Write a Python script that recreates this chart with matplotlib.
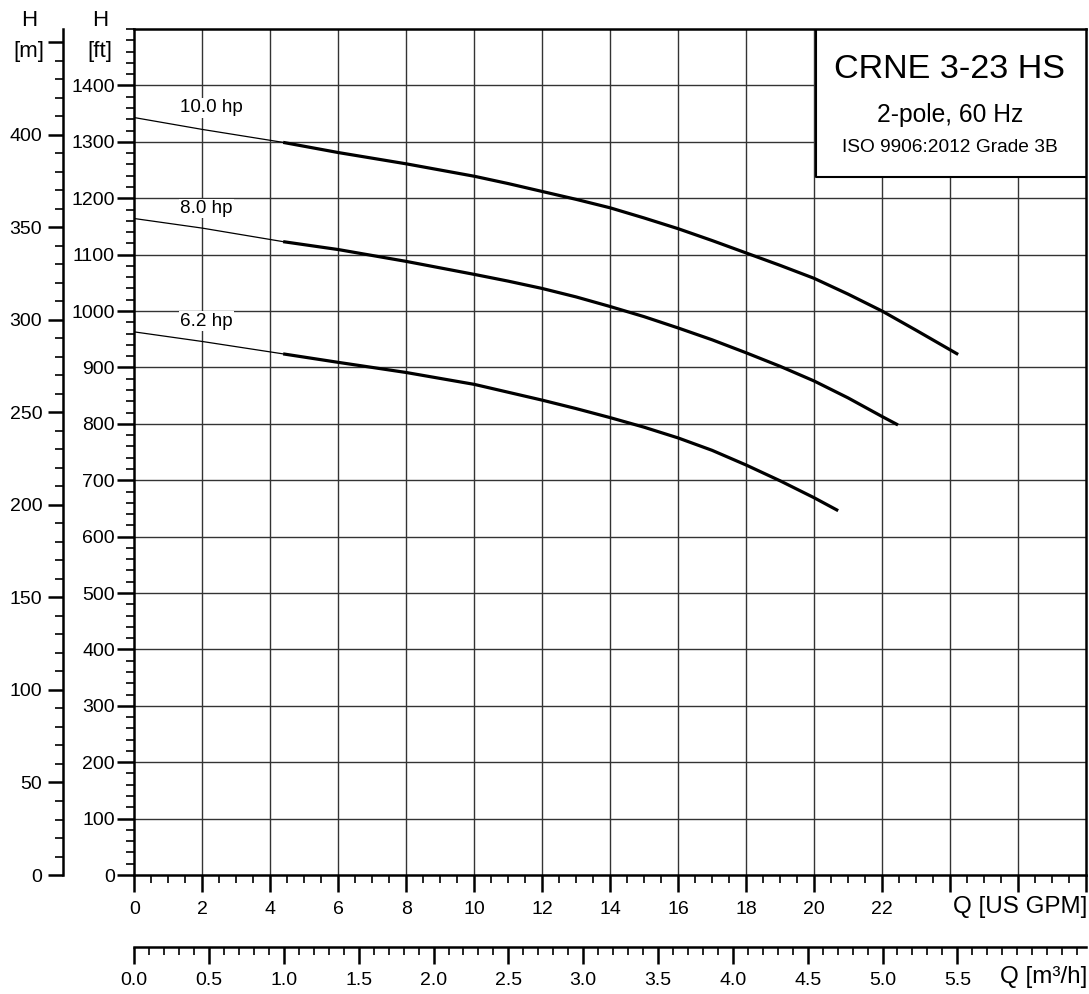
import numpy as np
import matplotlib.pyplot as plt
from matplotlib.ticker import MultipleLocator, FixedLocator

plt.rcParams['font.family'] = ['Liberation Sans', 'DejaVu Sans']

# odczytane punkty krzywych: Q [US GPM], H [ft]
q_thin = [0.0, 2.0, 4.38]
h10_thin = [1343, 1322, 1299]
h8_thin = [1164, 1147, 1123]
h62_thin = [963, 946, 924]

q10 = [4.38, 6, 7, 8, 9, 10, 11, 12, 13, 14, 15, 16, 17, 18, 19, 20, 21, 22, 23, 24.24]
h10 = [1299, 1281, 1271, 1261, 1250, 1239, 1226, 1212, 1198, 1183, 1165, 1146, 1125, 1103, 1081,
       1058, 1030, 1000, 966, 923]
q8 = [4.38, 6, 8, 10, 11, 12, 13, 14, 15, 16, 17, 18, 19, 20, 21, 22, 22.47]
h8 = [1123, 1109, 1088, 1065, 1053, 1040, 1025, 1008, 990, 970, 949, 926, 902, 876, 846, 813, 798]
q62 = [4.38, 6, 8, 10, 11, 12, 13, 14, 15, 16, 17, 18, 19, 20, 20.71]
h62 = [924, 909, 891, 870, 856, 842, 827, 811, 794, 775, 753, 727, 699, 669, 646]

labels = ['10.0 hp', '8.0 hp', '6.2 hp']
label_h = [1360, 1182, 982]

ft_ticks = list(range(0, 1500, 100))
m_ticks = list(range(0, 450, 50))
gpm_ticks = list(range(0, 24, 2))
m3h_ticks = [0.0, 0.5, 1.0, 1.5, 2.0, 2.5, 3.0, 3.5, 4.0, 4.5, 5.0, 5.5]

GPM_PER_M3H = 4.40287
FT_PER_M = 1 / 0.3048

fig = plt.figure(figsize=(10.89, 9.94), dpi=100)
ax = fig.add_axes([0.1233, 0.1197, 0.8739, 0.8511])
ax.set_xlim(0, 28)
ax.set_ylim(0, 1500)

# siatka
for x in range(2, 28, 2):
    ax.axvline(x, color='#333333', lw=1.0, zorder=1)
for y in range(100, 1500, 100):
    ax.axhline(y, color='#333333', lw=1.0, zorder=1)

# krzywe
for hthin, q, h in [(h10_thin, q10, h10), (h8_thin, q8, h8), (h62_thin, q62, h62)]:
    ax.plot(q_thin, hthin, color='black', lw=0.9, zorder=3)
    ax.plot(q, h, color='black', lw=2.3, zorder=3, solid_capstyle='butt', solid_joinstyle='round')

for lab, hy in zip(labels, label_h):
    ax.text(1.35, hy, lab, fontsize=13.6, ha='left', va='center', zorder=4,
            bbox=dict(facecolor='white', edgecolor='none', pad=1))

# ramka z tytulem
ax.fill_between([20.05, 28], 1237, 1500, facecolor='white', edgecolor='none', zorder=5)
ax.plot([20.05, 20.05, 28], [1500, 1237, 1237], color='black', lw=1.5, zorder=6)
ax.text(24.0, 1429, 'CRNE 3-23 HS', fontsize=24.6, ha='center', va='center', zorder=7)
ax.text(24.0, 1348, '2-pole, 60 Hz', fontsize=17.7, ha='center', va='center', zorder=7)
ax.text(24.0, 1290, 'ISO 9906:2012 Grade 3B', fontsize=13.75, ha='center', va='center', zorder=7)

for s in ['top', 'right', 'left', 'bottom']:
    ax.spines[s].set_linewidth(1.8)
    ax.spines[s].set_zorder(8)

# os ft
ax.yaxis.set_major_locator(FixedLocator(ft_ticks))
ax.yaxis.set_minor_locator(MultipleLocator(20))
ax.tick_params(axis='y', which='major', direction='out', length=12, width=1.8, labelsize=14, pad=2)
ax.tick_params(axis='y', which='minor', direction='out', length=6, width=1.2)

# os GPM
ax.xaxis.set_major_locator(FixedLocator(gpm_ticks + [24, 26, 28]))
ax.set_xticklabels([str(t) for t in gpm_ticks] + ['', '', ''])
ax.xaxis.set_minor_locator(MultipleLocator(0.5))
ax.tick_params(axis='x', which='major', direction='out', length=12, width=1.8, labelsize=14, pad=7)
ax.tick_params(axis='x', which='minor', direction='out', length=6, width=1.2)

# os m
axm = ax.twinx()
axm.set_ylim(0, 1500 / FT_PER_M)
for s in ['top', 'right', 'bottom']:
    axm.spines[s].set_visible(False)
axm.spines['left'].set_visible(True)
axm.spines['left'].set_position(('axes', -0.0749))
axm.spines['left'].set_linewidth(1.8)
axm.yaxis.set_ticks_position('left')
axm.yaxis.set_label_position('left')
axm.yaxis.set_major_locator(FixedLocator(m_ticks + [450]))
axm.set_yticklabels([str(t) for t in m_ticks] + [''])
axm.yaxis.set_minor_locator(MultipleLocator(10))
axm.tick_params(axis='y', which='major', direction='out', length=11, width=1.8, labelsize=14, pad=4)
axm.tick_params(axis='y', which='minor', direction='out', length=6, width=1.2)

# os m3/h
sec = ax.secondary_xaxis(-0.0851, functions=(lambda q: q / GPM_PER_M3H, lambda v: v * GPM_PER_M3H))
sec.xaxis.set_major_locator(FixedLocator(m3h_ticks))
sec.set_xticklabels(['%.1f' % t for t in m3h_ticks])
sec.xaxis.set_minor_locator(MultipleLocator(0.1))
sec.spines['bottom'].set_linewidth(1.8)
sec.tick_params(axis='x', which='major', direction='out', length=12, width=1.8, labelsize=14, pad=6)
sec.tick_params(axis='x', which='minor', direction='out', length=6, width=1.2)

# opisy osi
fig.text(29 / 1089, 1 - 20 / 994, 'H', fontsize=16, ha='center', va='center')
fig.text(29 / 1089, 1 - 51 / 994, '[m]', fontsize=16, ha='center', va='center')
fig.text(100 / 1089, 1 - 20 / 994, 'H', fontsize=16, ha='center', va='center')
fig.text(100 / 1089, 1 - 51 / 994, '[ft]', fontsize=16, ha='center', va='center')
fig.text(1087 / 1089, 1 - 907 / 994, 'Q [US GPM]', fontsize=17.4, ha='right', va='center')
fig.text(1087 / 1089, 1 - 977 / 994, 'Q [m³/h]', fontsize=17.4, ha='right', va='center')

fig.savefig('out.png', dpi=100)
